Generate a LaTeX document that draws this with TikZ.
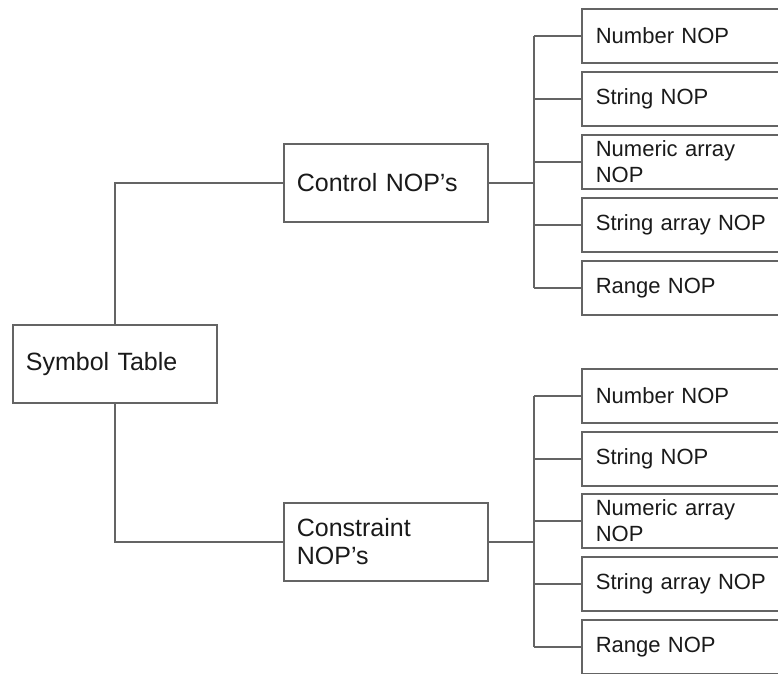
\documentclass[tikz,border=0pt]{standalone}
\usepackage{fontspec}
\setmainfont{Liberation Sans}
\definecolor{linegray}{HTML}{646464}
\definecolor{txt}{HTML}{1A1A1A}
\begin{document}
\begin{tikzpicture}[x=1pt,y=-1pt,
  box/.style={draw=linegray, line width=1.7pt, fill=white, rectangle,
    inner xsep=13pt, inner ysep=0pt, align=left, anchor=north west, text=txt},
  bigbox/.style={box, font=\fontsize{25}{28}\selectfont,
    minimum width=204pt, text width=178pt, minimum height=78pt},
  leaf/.style={box, inner xsep=14pt, font=\fontsize{22}{26}\selectfont,
    minimum width=240pt, text width=212pt, minimum height=54pt},
  conn/.style={draw=linegray, line width=1.7pt}]
\useasboundingbox (0,0) rectangle (778,673);
\clip (0,0) rectangle (778,673);

% root and the two groups
\node[bigbox] (sym) at (12,324) {Symbol Table};
\node[bigbox] (ctrl) at (283,143) {Control NOP's};
\node[bigbox] (cons) at (283,502) {Constraint\\NOP's};

% leaves of the control group
\node[leaf] (a1) at (581,8)   {Number NOP};
\node[leaf] (a2) at (581,71)  {String NOP};
\node[leaf] (a3) at (581,134) {Numeric array\\NOP};
\node[leaf] (a4) at (581,197) {String array NOP};
\node[leaf] (a5) at (581,260) {Range NOP};

% leaves of the constraint group
\node[leaf] (b1) at (581,368) {Number NOP};
\node[leaf] (b2) at (581,431) {String NOP};
\node[leaf] (b3) at (581,493) {Numeric array\\NOP};
\node[leaf] (b4) at (581,556) {String array NOP};
\node[leaf] (b5) at (581,619) {Range NOP};

% bus positions
\coordinate (busA) at (534,0);
\coordinate (busB) at (534,0);

% root to groups
\draw[conn] (sym.north) |- (ctrl.west);
\draw[conn] (sym.south) |- (cons.west);

% control group bus
\draw[conn] (ctrl.east) -- (ctrl.east -| busA);
\draw[conn] (a1.west -| busA) -- (a5.west -| busA);
\foreach \n in {a1,a2,a3,a4,a5}
  \draw[conn] (\n.west -| busA) -- (\n.west);

% constraint group bus
\draw[conn] (cons.east) -- (cons.east -| busB);
\draw[conn] (b1.west -| busB) -- (b5.west -| busB);
\foreach \n in {b1,b2,b3,b4,b5}
  \draw[conn] (\n.west -| busB) -- (\n.west);
\end{tikzpicture}
\end{document}
